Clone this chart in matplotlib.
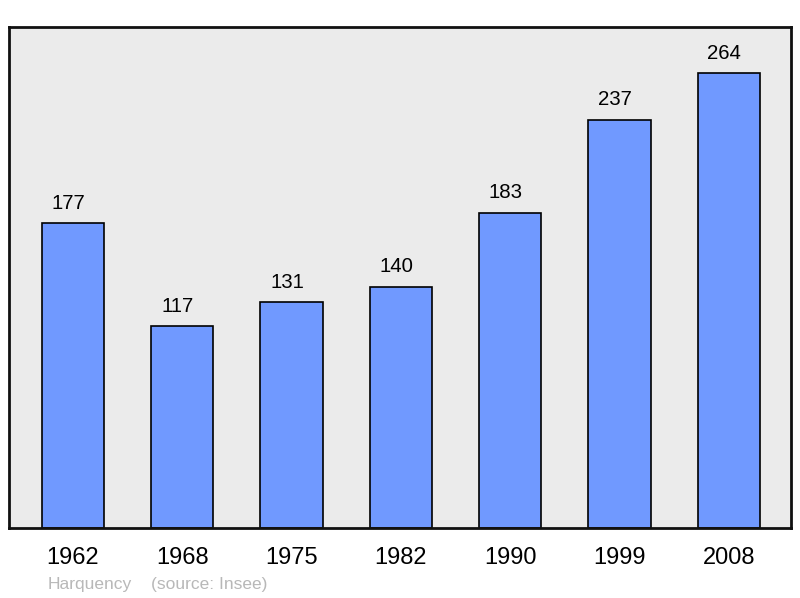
import matplotlib.pyplot as plt

years = ['1962', '1968', '1975', '1982', '1990', '1999', '2008']
population = [177, 117, 131, 140, 183, 237, 264]

plt.rcParams['font.family'] = ['Liberation Sans', 'DejaVu Sans']

fig = plt.figure(figsize=(8, 5.98), dpi=100)
ax = fig.add_axes([9 / 800, 70 / 598, 782 / 800, 501 / 598])
ax.set_facecolor('#ebebeb')

x = range(len(years))
ax.bar(x, population, width=0.57, color='#7099ff', edgecolor='black', linewidth=1.2, zorder=2)

# value labels above bars (slightly left of centre, as in the original)
for xi, v in zip(x, population):
    ax.annotate(str(v), (xi, v), xytext=(-3.3, 7.5), textcoords='offset points',
                ha='center', va='bottom', fontsize=14.7)

ax.set_xlim(-0.585, 6.57)
ax.set_ylim(0, 290.7)
ax.set_yticks([])
ax.set_xticks(list(x))
ax.set_xticklabels(years, fontsize=17)
ax.tick_params(axis='x', length=0, pad=13.5)
for s in ax.spines.values():
    s.set_linewidth(2)
    s.set_color('#111111')

fig.text(48 / 800, 1 - 584 / 598, 'Harquency', color='#b8b8b8', fontsize=12.5, va='center')
fig.text(151 / 800, 1 - 584 / 598, '(source: Insee)', color='#b8b8b8', fontsize=12.5, va='center')

plt.savefig('out.png', dpi=100)
